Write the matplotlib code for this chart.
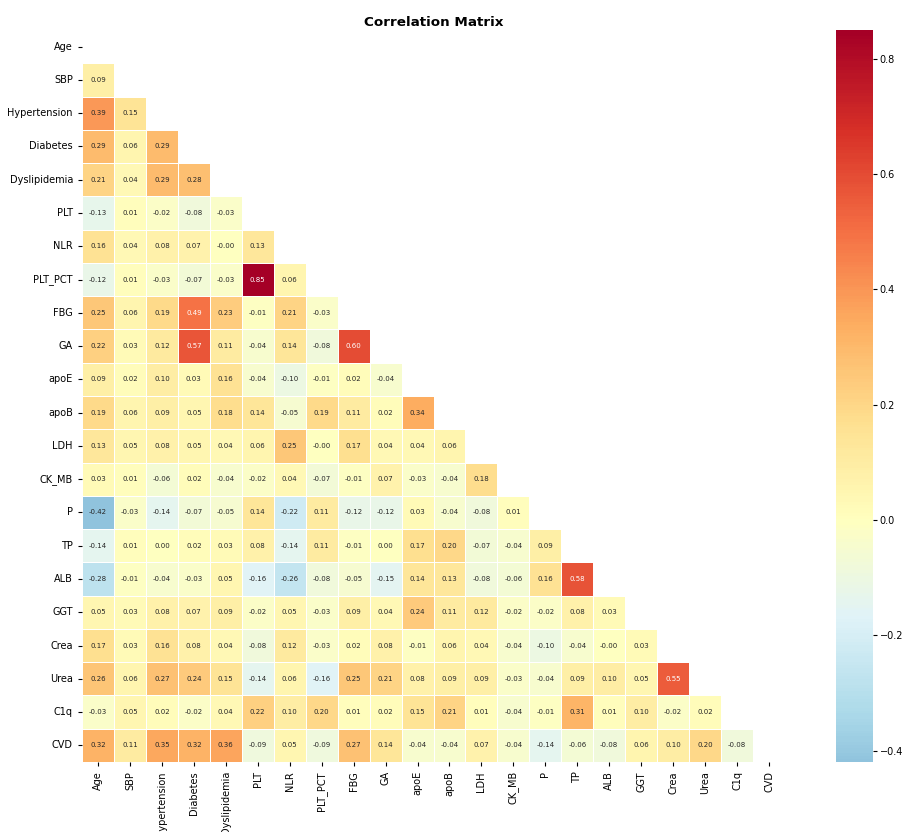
import numpy as np
import pandas as pd
import matplotlib
matplotlib.use("Agg")
import matplotlib.pyplot as plt
import seaborn as sns

labels = ["Age", "SBP", "Hypertension", "Diabetes", "Dyslipidemia", "PLT", "NLR",
          "PLT_PCT", "FBG", "GA", "apoE", "apoB", "LDH", "CK_MB", "P", "TP", "ALB",
          "GGT", "Crea", "Urea", "C1q", "CVD"]

# lower triangle, row by row (values below the diagonal)
rows = [
    [],
    [0.09],
    [0.39, 0.15],
    [0.29, 0.06, 0.29],
    [0.21, 0.04, 0.29, 0.28],
    [-0.13, 0.01, -0.02, -0.08, -0.03],
    [0.16, 0.04, 0.08, 0.07, -0.003, 0.13],
    [-0.12, 0.01, -0.03, -0.07, -0.03, 0.85, 0.06],
    [0.25, 0.06, 0.19, 0.49, 0.23, -0.01, 0.21, -0.03],
    [0.22, 0.03, 0.12, 0.57, 0.11, -0.04, 0.14, -0.08, 0.60],
    [0.09, 0.02, 0.10, 0.03, 0.16, -0.04, -0.10, -0.01, 0.02, -0.04],
    [0.19, 0.06, 0.09, 0.05, 0.18, 0.14, -0.05, 0.19, 0.11, 0.02, 0.34],
    [0.13, 0.05, 0.08, 0.05, 0.04, 0.06, 0.25, -0.003, 0.17, 0.04, 0.04, 0.06],
    [0.03, 0.01, -0.06, 0.02, -0.04, -0.02, 0.04, -0.07, -0.01, 0.07, -0.03, -0.04, 0.18],
    [-0.42, -0.03, -0.14, -0.07, -0.05, 0.14, -0.22, 0.11, -0.12, -0.12, 0.03, -0.04,
     -0.08, 0.01],
    [-0.14, 0.01, 0.00, 0.02, 0.03, 0.08, -0.14, 0.11, -0.01, 0.00, 0.17, 0.20, -0.07,
     -0.04, 0.09],
    [-0.28, -0.01, -0.04, -0.03, 0.05, -0.16, -0.26, -0.08, -0.05, -0.15, 0.14, 0.13,
     -0.08, -0.06, 0.16, 0.58],
    [0.05, 0.03, 0.08, 0.07, 0.09, -0.02, 0.05, -0.03, 0.09, 0.04, 0.24, 0.11, 0.12,
     -0.02, -0.02, 0.08, 0.03],
    [0.17, 0.03, 0.16, 0.08, 0.04, -0.08, 0.12, -0.03, 0.02, 0.08, -0.01, 0.06, 0.04,
     -0.04, -0.10, -0.04, -0.003, 0.03],
    [0.26, 0.06, 0.27, 0.24, 0.15, -0.14, 0.06, -0.16, 0.25, 0.21, 0.08, 0.09, 0.09,
     -0.03, -0.04, 0.09, 0.10, 0.05, 0.55],
    [-0.03, 0.05, 0.02, -0.02, 0.04, 0.22, 0.10, 0.20, 0.01, 0.02, 0.15, 0.21, 0.01,
     -0.04, -0.01, 0.31, 0.01, 0.10, -0.02, 0.02],
    [0.32, 0.11, 0.35, 0.32, 0.36, -0.09, 0.05, -0.09, 0.27, 0.14, -0.04, -0.04, 0.07,
     -0.04, -0.14, -0.06, -0.08, 0.06, 0.10, 0.20, -0.08],
]

n = len(labels)
corr = np.eye(n)
for i, r in enumerate(rows):
    for j, v in enumerate(r):
        corr[i, j] = v
        corr[j, i] = v
corr = pd.DataFrame(corr, index=labels, columns=labels)
mask = np.triu(np.ones_like(corr, dtype=bool))

fig = plt.figure(figsize=(9.02, 8.32), dpi=100)
ax = fig.add_axes([0.0909, 0.0841, 0.7794, 0.8798])
cax = fig.add_axes([0.927, 0.0841, 0.0406, 0.8798])

sns.heatmap(corr, mask=mask, cmap="RdYlBu_r", center=0, annot=True, fmt=".2f",
            linewidths=0.5, linecolor="white", annot_kws={"size": 5},
            ax=ax, cbar_ax=cax)

ax.set_title("Correlation Matrix", fontsize=9.7, fontweight="bold", pad=3)
ax.tick_params(axis="both", labelsize=7, length=3)
plt.setp(ax.get_xticklabels(), rotation=90)
plt.setp(ax.get_yticklabels(), rotation=0)
cax.tick_params(labelsize=7, length=3, pad=2)

fig.savefig("out.png", dpi=100)
